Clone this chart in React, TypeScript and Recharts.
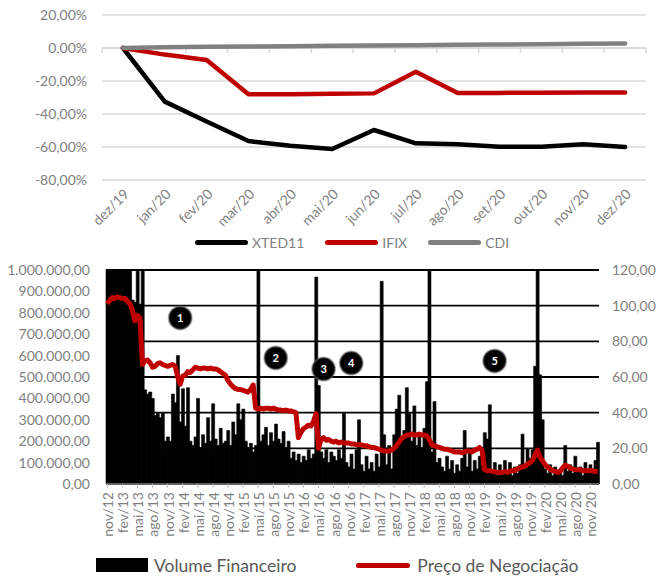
import {
  LineChart,
  Line,
  ComposedChart,
  Bar,
  XAxis,
  YAxis,
  CartesianGrid,
  Legend,
  ReferenceLine,
  ReferenceDot,
} from 'recharts'

// Rentabilidade acumulada em 2020 (%)
const months = ['dez/19', 'jan/20', 'fev/20', 'mar/20', 'abr/20', 'mai/20', 'jun/20', 'jul/20', 'ago/20', 'set/20', 'out/20', 'nov/20', 'dez/20']
const xted11 = [0, -32.5, -44.6, -56.4, -59.2, -61.2, -49.7, -57.8, -58.4, -59.8, -59.8, -58.4, -60]
const ifix = [0, -4, -7.3, -28, -28, -27.8, -27.5, -14.4, -27.3, -27.2, -27.1, -27, -27]
const cdi = [0, 0.4, 0.7, 0.9, 1.1, 1.3, 1.5, 1.7, 1.9, 2.1, 2.3, 2.6, 2.8]
const returnTicks = [-80, -60, -40, -20, 0, 20]

// Histórico quinzenal nov/12 a dez/20
const monthNames = ['jan', 'fev', 'mar', 'abr', 'mai', 'jun', 'jul', 'ago', 'set', 'out', 'nov', 'dez']

// volume financeiro em R$ mil
const volumeK = [
  1100, 1100, 1100, 1100, 1100, 1100, 1100, 1100, 1100, 1100,
  860, 850, 1100, 840, 1100, 440, 420, 430, 400, 320,
  330, 310, 330, 200, 220, 200, 420, 380, 600, 290,
  445, 270, 450, 200, 180, 220, 400, 170, 230, 190,
  310, 200, 375, 210, 180, 260, 190, 200, 250, 180,
  290, 230, 375, 300, 350, 200, 170, 190, 150, 180,
  1100, 200, 230, 265, 180, 240, 200, 280, 210, 190,
  245, 170, 200, 120, 150, 110, 140, 100, 130, 110,
  160, 120, 140, 967, 460, 150, 120, 160, 100, 150,
  130, 110, 160, 120, 330, 100, 80, 140, 70, 160,
  300, 90, 60, 130, 70, 100, 60, 140, 80, 947,
  230, 90, 180, 70, 230, 350, 415, 200, 250, 450,
  330, 200, 365, 180, 220, 170, 260, 478, 1100, 150,
  385, 100, 120, 80, 60, 130, 70, 110, 50, 90,
  60, 120, 250, 80, 150, 60, 110, 70, 130, 90,
  240, 210, 370, 60, 100, 40, 90, 50, 110, 60,
  100, 40, 80, 50, 90, 233, 70, 165, 120, 160,
  550, 1100, 510, 300, 70, 50, 90, 40, 80, 50,
  70, 40, 180, 60, 90, 50, 130, 60, 80, 40,
  100, 60, 90, 50, 110, 195,
]

// preço de negociação em R$
const price = [
  101, 103, 104.5, 104, 105, 104.5, 104, 104, 102.5, 101,
  97.5, 91.5, 94.5, 93, 67, 69, 69.5, 68, 65.5, 66,
  67.5, 68, 67, 66.5, 66, 66.5, 67, 66, 60, 56,
  60.5, 61, 63, 62.5, 64, 65.5, 65, 64.5, 65, 65,
  64.5, 65, 64.5, 64.5, 64, 63, 62, 61, 58, 56,
  54.5, 53.5, 53, 53, 52.5, 52, 51.5, 53, 55.5, 42.5,
  42, 42.5, 42, 42.5, 42.5, 42, 42.5, 42, 41.5, 41.5,
  41, 41.5, 41, 41, 40.5, 40, 26, 29, 31, 32,
  33, 32.5, 35, 39.5, 20, 25, 26, 24.5, 25, 24,
  23.5, 24, 23, 23.5, 23, 23, 23, 22.5, 22.5, 22,
  22, 22, 21.5, 21.5, 21, 20.5, 20.5, 20, 19.5, 19,
  18.5, 18.5, 18.5, 19, 20, 21.5, 23.5, 25.5, 26.5, 27.5,
  27.5, 28, 27.5, 27.5, 28, 27.5, 27.5, 27, 25, 22,
  21.5, 21, 20.5, 20, 19.5, 19.5, 19, 18.5, 18, 18,
  18, 17.5, 18, 18.5, 18.5, 18, 19, 19.5, 20.5, 19,
  8, 7.5, 7.5, 7, 7, 6.5, 6.5, 6.5, 7, 6.5,
  7, 7.5, 7.5, 8.5, 9, 9.5, 10, 11, 12, 13,
  16, 19, 15, 13, 11, 9.5, 8.5, 7.5, 7, 6.5,
  7, 9, 10.5, 10, 9, 8.5, 8, 8, 8, 7.5,
  7.5, 7.5, 7.5, 7.5, 7, 7,
]

const periodTicks = [
  'nov/12', 'fev/13', 'mai/13', 'ago/13', 'nov/13', 'fev/14', 'mai/14', 'ago/14', 'nov/14',
  'fev/15', 'mai/15', 'ago/15', 'nov/15', 'fev/16', 'mai/16', 'ago/16', 'nov/16',
  'fev/17', 'mai/17', 'ago/17', 'nov/17', 'fev/18', 'mai/18', 'ago/18', 'nov/18',
  'fev/19', 'mai/19', 'ago/19', 'nov/19', 'fev/20', 'mai/20', 'ago/20', 'nov/20',
]
const volumeTicks = [0, 100, 200, 300, 400, 500, 600, 700, 800, 900, 1000]
const priceTicks = [0, 20, 40, 60, 80, 100, 120]

// marcos numerados sobre o gráfico de volume
const markers = [
  { label: '1', period: 'jan/14-2', volume: 776 },
  { label: '2', period: 'ago/15-2', volume: 589 },
  { label: '3', period: 'jun/16', volume: 537 },
  { label: '4', period: 'nov/16-2', volume: 565 },
  { label: '5', period: 'abr/19', volume: 575 },
]

// duas quinzenas por mês, a partir de nov/12
const periods: string[] = []
for (let i = 0; i < volumeK.length / 2; i++) {
  const key = `${monthNames[(10 + i) % 12]}/${12 + Math.floor((10 + i) / 12)}`
  periods.push(key, `${key}-2`)
}

const returnsData = months.map((month, i) => ({ month, xted11: xted11[i], ifix: ifix[i], cdi: cdi[i] }))
const historyData = periods.map((period, i) => ({ period, volume: volumeK[i], price: price[i] }))

const GRAY = '#7f7f7f'
const FONT = 'Lato, "Open Sans", sans-serif'

const fmtNumber = (n: number) => {
  const [int, dec] = n.toFixed(2).split('.')
  return `${int.replace(/\B(?=(\d{3})+(?!\d))/g, '.')},${dec}`
}

// linha do zero com as marcas entre categorias
const ZeroAxis = (props: any) => {
  const { x1, x2, y1 } = props
  const step = (x2 - x1) / months.length
  return (
    <g>
      <line x1={x1} x2={x2} y1={y1} y2={y1} stroke="#d9d9d9" strokeWidth={1.5} />
      {months.concat('').map((_, i) => (
        <line key={i} x1={x1 + i * step} x2={x1 + i * step} y1={y1} y2={y1 + 5} stroke="#d9d9d9" strokeWidth={1.5} />
      ))}
    </g>
  )
}

// rótulo trimestral do eixo de datas, com a marca de escala
const PeriodTick = (props: any) => {
  const { x, y, payload } = props
  if (!periodTicks.includes(payload.value)) return null
  return (
    <g>
      <line x1={x} x2={x} y1={y - 8} y2={y - 4} stroke="#bfbfbf" strokeWidth={1} />
      <text
        x={x}
        y={y}
        dy="0.42em"
        transform={`rotate(-90, ${x}, ${y})`}
        textAnchor="end"
        fill={GRAY}
        fontSize={14}
        fontFamily={FONT}
      >
        {payload.value}
      </text>
    </g>
  )
}

const returnSeries = [
  { key: 'xted11', name: 'XTED11', color: '#000000' },
  { key: 'ifix', name: 'IFIX', color: '#c00000' },
  { key: 'cdi', name: 'CDI', color: '#808080' },
]

const ReturnsLegend = () => (
  <div style={{ display: 'flex', alignItems: 'center', height: 20, paddingLeft: 195, fontSize: 14, color: GRAY, fontFamily: FONT }}>
    {returnSeries.map((s) => (
      <div key={s.key} style={{ display: 'flex', alignItems: 'center', marginRight: 21 }}>
        <div style={{ width: 53, height: 5, borderRadius: 3, background: s.color, marginRight: 4 }} />
        <span>{s.name}</span>
      </div>
    ))}
  </div>
)

const HistoryLegend = () => (
  <div style={{ display: 'flex', alignItems: 'center', height: 26, paddingLeft: 96, fontSize: 17.5, color: '#595959', fontFamily: FONT }}>
    <div style={{ width: 52, height: 14, background: '#000', marginRight: 6 }} />
    <span style={{ marginRight: 60 }}>Volume Financeiro</span>
    <div style={{ width: 54, height: 5, borderRadius: 3, background: '#c00000', marginRight: 7 }} />
    <span>Preço de Negociação</span>
  </div>
)

const markerShape = (label: string) => (props: any) => (
  <g>
    <circle cx={props.cx} cy={props.cy} r={11.5} fill="#000" stroke="#666" strokeWidth={2} strokeOpacity={0.5} />
    <text x={props.cx} y={props.cy} dy="0.36em" textAnchor="middle" fill="#fff" fontSize={11} fontWeight={700} fontFamily={FONT}>
      {label}
    </text>
  </g>
)

export default function App() {
  return (
    <div style={{ position: 'absolute', left: 0, top: 0, width: 658, height: 578, background: '#fff', fontFamily: FONT }}>
      <div style={{ position: 'absolute', left: 0, top: 0 }}>
        <LineChart width={658} height={252} data={returnsData} margin={{ top: 15, right: 12, bottom: 0, left: 0 }}>
          <CartesianGrid vertical={false} stroke="#d9d9d9" strokeWidth={1.3} />
          <XAxis
            dataKey="month"
            scale="band"
            height={52}
            axisLine={false}
            tickLine={false}
            tickSize={0}
            tickMargin={8}
            interval={0}
            angle={-45}
            textAnchor="end"
            tick={{ fill: GRAY, fontSize: 14 }}
          />
          <YAxis
            width={102}
            domain={[-80, 20]}
            ticks={returnTicks}
            axisLine={false}
            tickLine={false}
            tickSize={0}
            tickMargin={15}
            tick={{ fill: GRAY, fontSize: 14 }}
            tickFormatter={(v: number) => `${fmtNumber(v)}%`}
          />
          <ReferenceLine y={0} shape={ZeroAxis} />
          <Legend verticalAlign="bottom" content={ReturnsLegend} />
          {returnSeries.map((s) => (
            <Line
              key={s.key}
              type="linear"
              dataKey={s.key}
              name={s.name}
              stroke={s.color}
              strokeWidth={4.5}
              strokeLinecap="round"
              strokeLinejoin="round"
              dot={false}
              isAnimationActive={false}
            />
          ))}
        </LineChart>
      </div>

      <div style={{ position: 'absolute', left: 0, top: 255 }}>
        <ComposedChart
          width={658}
          height={323}
          data={historyData}
          margin={{ top: 15, right: 0, bottom: 0, left: 0 }}
          barCategoryGap={0}
          barGap={0}
        >
          <CartesianGrid vertical={false} yAxisId="price" stroke="#000" strokeWidth={1.8} />
          <XAxis
            dataKey="period"
            interval={0}
            height={68}
            axisLine={{ stroke: '#bfbfbf' }}
            tickLine={false}
            tickSize={4}
            tickMargin={4}
            tick={<PeriodTick />}
          />
          <YAxis
            yAxisId="volume"
            width={106}
            domain={[0, 1000]}
            ticks={volumeTicks}
            allowDataOverflow
            axisLine={false}
            tickLine={false}
            tickSize={0}
            tickMargin={16}
            tick={{ fill: GRAY, fontSize: 14 }}
            tickFormatter={(v: number) => fmtNumber(v * 1000)}
          />
          <YAxis
            yAxisId="price"
            orientation="right"
            width={59}
            domain={[0, 120]}
            ticks={priceTicks}
            axisLine={false}
            tickLine={false}
            tickSize={0}
            tickMargin={13}
            tick={{ fill: GRAY, fontSize: 14 }}
            tickFormatter={(v: number) => fmtNumber(v)}
          />
          <Legend verticalAlign="bottom" content={HistoryLegend} />
          <Bar
            yAxisId="volume"
            dataKey="volume"
            name="Volume Financeiro"
            fill="#000"
            stroke="#000"
            strokeWidth={0.6}
            isAnimationActive={false}
          />
          <Line
            yAxisId="price"
            type="linear"
            dataKey="price"
            name="Preço de Negociação"
            stroke="#c00000"
            strokeWidth={5}
            strokeLinejoin="round"
            dot={false}
            isAnimationActive={false}
          />
          {markers.map((m) => (
            <ReferenceDot
              key={m.label}
              yAxisId="volume"
              x={m.period}
              y={m.volume}
              r={11.5}
              shape={markerShape(m.label)}
            />
          ))}
        </ComposedChart>
      </div>
    </div>
  )
}
